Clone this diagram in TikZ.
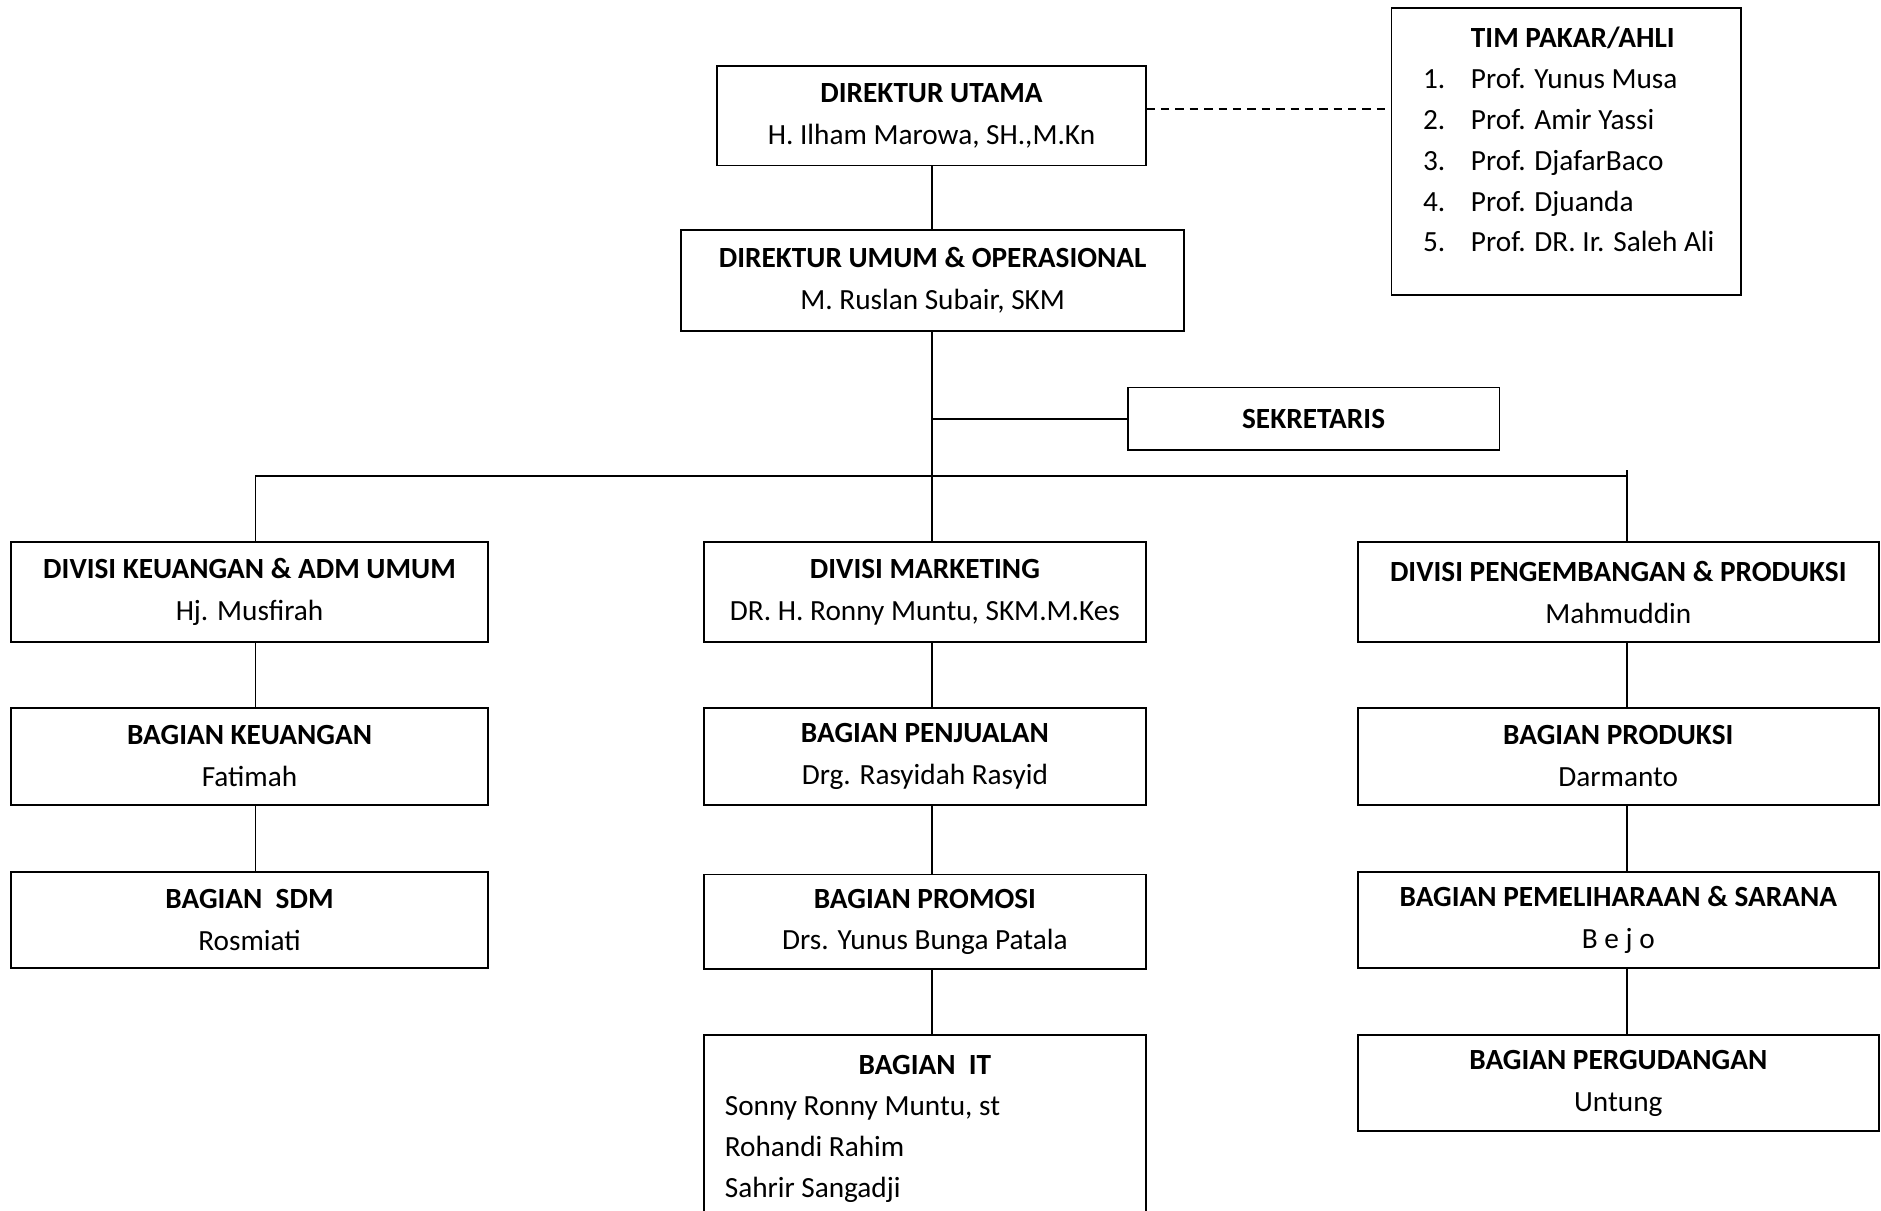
\documentclass[tikz,border=0pt]{standalone}
\usepackage{fontspec}
\setmainfont{Carlito}
\newcommand\mkbox[6]{\node[orgbox, minimum width={(#4-#2)*1pt}, minimum height={(#5-#3)*1pt}] (#1) at ({(#2+#4)/2},{(#3+#5)/2}) {#6};}
\begin{document}
\begin{tikzpicture}[x=1pt,y=-1pt,
  orgbox/.style={draw, line width=1.5pt, inner sep=0pt, align=center, font=\fontsize{24.4}{35}\selectfont},
  plain/.style={inner sep=0pt, font=\fontsize{24.4}{34}\selectfont},
  conn/.style={line width=1.5pt},
]
\useasboundingbox (0,0) rectangle (1568,1009);
% top
\mkbox{du}{598}{55}{955}{138}{\textbf{DIREKTUR UTAMA}\\H. Ilham Marowa, SH.,M.Kn}
\mkbox{duo}{568}{192}{987}{276}{\textbf{DIREKTUR UMUM \& OPERASIONAL}\\M. Ruslan Subair, SKM}
\mkbox{tim}{1160}{7}{1451}{246}{}
\node[plain, anchor=north west] (timtext) at (1186,16) {%
  \begin{tabular}{@{}p{40pt}@{}l@{}}
   & \textbf{TIM PAKAR/AHLI}\\
  1. & Prof. Yunus Musa\\
  2. & Prof. Amir Yassi\\
  3. & Prof. DjafarBaco\\
  4. & Prof. Djuanda\\
  5. & Prof. DR. Ir. Saleh Ali
  \end{tabular}};
\mkbox{sek}{940}{323}{1250}{375}{\textbf{SEKRETARIS}}
% row 1
\mkbox{dku}{9}{452}{407}{535}{\textbf{DIVISI KEUANGAN \& ADM UMUM}\\Hj. Musfirah}
\mkbox{dmk}{587}{452}{955}{535}{\textbf{DIVISI MARKETING}\\DR. H. Ronny Muntu, SKM.M.Kes}
\mkbox{dpp}{1132}{452}{1566}{535}{\textbf{DIVISI PENGEMBANGAN \& PRODUKSI}\\Mahmuddin}
% row 2
\mkbox{bku}{9}{590}{407}{671}{\textbf{BAGIAN KEUANGAN}\\Fatimah}
\mkbox{bpj}{587}{590}{955}{671}{\textbf{BAGIAN PENJUALAN}\\Drg. Rasyidah Rasyid}
\mkbox{bpr}{1132}{590}{1566}{671}{\textbf{BAGIAN PRODUKSI}\\Darmanto}
% row 3
\mkbox{bsdm}{9}{727}{407}{807}{\textbf{BAGIAN~~SDM}\\Rosmiati}
\mkbox{bpm}{587}{729}{955}{808}{\fontsize{24.4}{30}\selectfont\textbf{BAGIAN PROMOSI}\\Drs. Yunus Bunga Patala}
\mkbox{bps}{1132}{727}{1566}{807}{\textbf{BAGIAN PEMELIHARAAN \& SARANA}\\B e j o}
% row 4
\mkbox{bit}{587}{863}{955}{1070}{}
\node[plain] (ittitle) at (771,888) {\textbf{BAGIAN~~IT}};
\node[plain, anchor=base west, align=left] (itnames) at (604,998) {Sonny Ronny Muntu, st\\Rohandi Rahim\\Sahrir Sangadji};
\mkbox{bpg}{1132}{863}{1566}{943}{\textbf{BAGIAN PERGUDANGAN}\\Untung}
% connectors
\coordinate (cl) at (213,397);
\coordinate (cm) at (777,397);
\coordinate (cr) at (1356,397);
\coordinate (crt) at (1356,392);
\draw[conn, dash pattern=on 7pt off 5pt] ([yshift=5.5pt]du.east) -- ([yshift=5.5pt]du.east -| tim.west);
\draw[conn] (du.south -| cm) -- (duo.north -| cm);
\draw[conn] (duo.south -| cm) -- (dmk.north -| cm);
\draw[conn] (sek.west) -- (sek.west -| cm);
\draw[conn] (dku.north -| cl) -- (cl) -- (cr);
\draw[conn] (crt) -- (dpp.north -| cr);
\draw[conn] (dku.south -| cl) -- (bku.north -| cl);
\draw[conn] (bku.south -| cl) -- (bsdm.north -| cl);
\draw[conn] (dmk.south -| cm) -- (bpj.north -| cm);
\draw[conn] (bpj.south -| cm) -- (bpm.north -| cm);
\draw[conn] (bpm.south -| cm) -- (bit.north -| cm);
\draw[conn] (dpp.south -| cr) -- (bpr.north -| cr);
\draw[conn] (bpr.south -| cr) -- (bps.north -| cr);
\draw[conn] (bps.south -| cr) -- (bpg.north -| cr);
\end{tikzpicture}
\end{document}
